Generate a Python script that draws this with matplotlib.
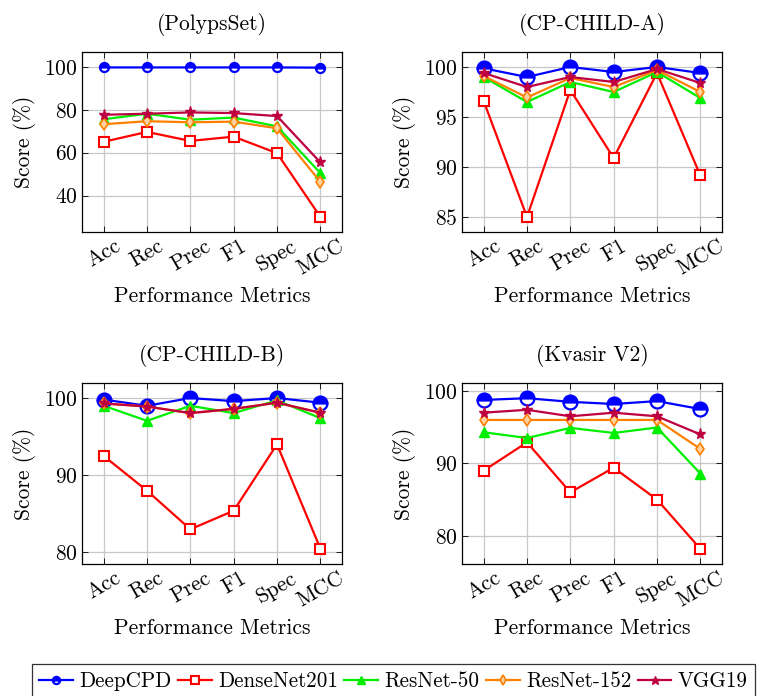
import matplotlib
matplotlib.use("Agg")
import matplotlib.pyplot as plt

plt.rcParams['font.family'] = ['cmr10', 'DejaVu Serif']
plt.rcParams['mathtext.fontset'] = 'cm'
plt.rcParams['axes.formatter.use_mathtext'] = True
plt.rcParams['axes.unicode_minus'] = False

metrics = ["Acc", "Rec", "Prec", "F1", "Spec", "MCC"]
models = ["DeepCPD", "DenseNet201", "ResNet-50", "ResNet-152", "VGG19"]

polyps_deepcpd = [99.8, 99.8, 99.8, 99.8, 99.8, 99.7]
polyps_densenet = [65.1, 69.7, 65.5, 67.5, 59.8, 30.1]
polyps_resnet50 = [75.6, 78.2, 75.4, 76.4, 72.3, 50.5]
polyps_resnet152 = [73.3, 74.7, 74.2, 74.5, 71.4, 46.4]
polyps_vgg19 = [77.7, 78.2, 78.8, 78.5, 77.1, 55.5]

cpa_deepcpd = [99.87, 99.0, 100.0, 99.5, 100.0, 99.4]
cpa_densenet = [96.6, 85.0, 97.7, 90.9, 99.4, 89.15]
cpa_resnet50 = [99.0, 96.5, 98.5, 97.5, 99.5, 96.9]
cpa_resnet152 = [99.1, 96.95, 98.9, 98.0, 99.7, 97.5]
cpa_vgg19 = [99.4, 98.0, 99.0, 98.5, 99.8, 98.4]

cpb_deepcpd = [99.8, 99.0, 100.0, 99.6, 100.0, 99.4]
cpb_densenet = [92.5, 88.0, 83.0, 85.4, 94.0, 80.5]
cpb_resnet50 = [99.0, 97.05, 99.0, 98.05, 99.7, 97.4]
cpb_resnet152 = [99.3, 98.9, 98.05, 98.6, 99.4, 98.1]
cpb_vgg19 = [99.3, 98.9, 98.05, 98.6, 99.4, 98.1]

kv_deepcpd = [98.76, 99.0, 98.5, 98.2, 98.6, 97.5]
kv_densenet = [89.0, 92.9, 86.0, 89.4, 85.0, 78.2]
kv_resnet50 = [94.3, 93.5, 94.9, 94.2, 94.95, 88.6]
kv_resnet152 = [96.0, 96.0, 96.0, 96.0, 96.0, 92.0]
kv_vgg19 = [97.0, 97.4, 96.5, 97.0, 96.5, 94.0]

panels = [
    ("(PolypsSet)", [polyps_deepcpd, polyps_densenet, polyps_resnet50, polyps_resnet152, polyps_vgg19], [40, 60, 80, 100], (23, 107), 6.5),
    ("(CP-CHILD-A)", [cpa_deepcpd, cpa_densenet, cpa_resnet50, cpa_resnet152, cpa_vgg19], [85, 90, 95, 100], (83.5, 101.5), 10),
    ("(CP-CHILD-B)", [cpb_deepcpd, cpb_densenet, cpb_resnet50, cpb_resnet152, cpb_vgg19], [80, 90, 100], (78.5, 101.95), 10),
    ("(Kvasir V2)", [kv_deepcpd, kv_densenet, kv_resnet50, kv_resnet152, kv_vgg19], [80, 90, 100], (76.1, 101.1), 10),
]

colors = ['#0000FF', '#FF0000', '#00EE00', '#FF8000', '#BF0040']

W, H = 760, 696
fig = plt.figure(figsize=(W / 100, H / 100), dpi=100)

boxes = [
    (82, 52, 342, 232),
    (462, 52, 722, 232),
    (82, 383, 342, 564),
    (462, 383, 722, 564),
]

FS = 15.5
x = list(range(len(metrics)))
handles = []
for (title, series, yticks, ylim, dsize), (l, t, r, b) in zip(panels, boxes):
    ax = fig.add_axes([l / W, 1 - b / H, (r - l) / W, (b - t) / H])
    hs = []
    h, = ax.plot(x, series[0], color=colors[0], lw=1.6, marker='o', ms=dsize,
                 fillstyle='top', markerfacecolor=colors[0], markerfacecoloralt='white',
                 mew=1.6, mec=colors[0], zorder=3)
    hs.append(h)
    h, = ax.plot(x, series[1], color=colors[1], lw=1.6, marker='s', ms=7,
                 markerfacecolor='white', mec=colors[1], mew=1.5, zorder=3)
    hs.append(h)
    h, = ax.plot(x, series[2], color=colors[2], lw=1.6, marker='^', ms=7,
                 markerfacecolor=colors[2], mec=colors[2], zorder=3)
    hs.append(h)
    h, = ax.plot(x, series[3], color=colors[3], lw=1.6, marker='d', ms=6,
                 markerfacecolor='#FFD0A0', mec=colors[3], mew=1.2, zorder=3)
    hs.append(h)
    h, = ax.plot(x, series[4], color=colors[4], lw=1.6, marker='*', ms=8,
                 markerfacecolor=colors[4], mec=colors[4], zorder=3)
    hs.append(h)
    if not handles:
        handles = hs
    ax.set_xlim(-0.5, 5.5)
    ax.set_ylim(*ylim)
    ax.set_xticks(x)
    ax.set_xticklabels(metrics, rotation=30, ha='center', fontsize=FS)
    ax.set_yticks(yticks)
    ax.tick_params(axis='y', labelsize=FS)
    ax.tick_params(direction='in', top=True, right=True, length=4, width=0.6, pad=3)
    ax.grid(True, color='#C8C8C8', lw=0.9)
    ax.set_axisbelow(True)
    for s in ax.spines.values():
        s.set_linewidth(0.9)
    ax.set_title(title, fontsize=FS, pad=16)
    ax.set_xlabel("Performance Metrics", fontsize=FS, labelpad=6)
    ax.set_ylabel("Score (%)", fontsize=FS, labelpad=6)

leg = fig.legend(handles, models, loc='upper left', bbox_to_anchor=(32 / W, 1 - 664 / H),
                 ncol=5, fontsize=15.2, frameon=True, fancybox=False, edgecolor='black',
                 handlelength=1.6, handletextpad=0.3, columnspacing=0.3, borderpad=0.35,
                 borderaxespad=0.0, markerscale=0.8)
leg.get_frame().set_linewidth(0.9)

fig.savefig("out.png", dpi=100)
